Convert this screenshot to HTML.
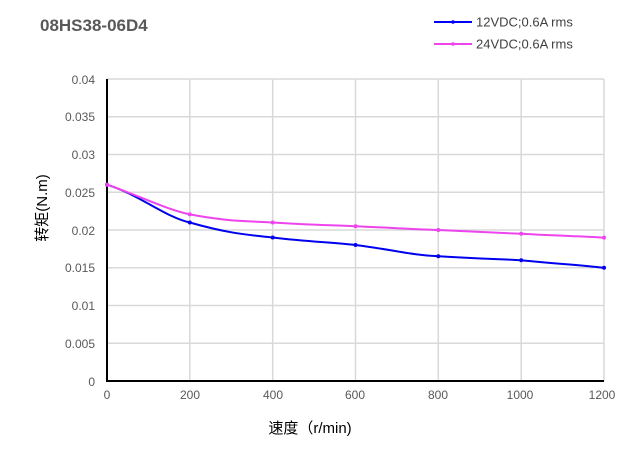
<!DOCTYPE html>
<html><head><meta charset="utf-8"><style>
body{margin:0;background:#fff}
svg{display:block;font-family:"Liberation Sans","Noto Sans CJK SC",sans-serif}
</style></head><body>
<svg width="640" height="450" viewBox="0 0 640 450">
<rect width="640" height="450" fill="#fff"/>
<text x="40" y="31" font-size="17" font-weight="bold" fill="#595959">08HS38-06D4</text>
<line x1="434" y1="22" x2="472" y2="22" stroke="#0000ff" stroke-width="2"/>
<circle cx="453" cy="22" r="1.8" fill="#0000ff"/>
<text x="476" y="26.5" font-size="13" fill="#404040">12VDC;0.6A rms</text>
<line x1="434" y1="44" x2="472" y2="44" stroke="#ee44ee" stroke-width="2"/>
<circle cx="453" cy="44" r="1.8" fill="#ee44ee"/>
<text x="476" y="48.5" font-size="13" fill="#404040">24VDC;0.6A rms</text>
<g stroke="#d9d9d9" stroke-width="1.5">
<line x1="107" y1="79" x2="604" y2="79"/><line x1="107" y1="116.75" x2="604" y2="116.75"/>
<line x1="107" y1="154.5" x2="604" y2="154.5"/><line x1="107" y1="192.25" x2="604" y2="192.25"/>
<line x1="107" y1="230" x2="604" y2="230"/><line x1="107" y1="267.75" x2="604" y2="267.75"/>
<line x1="107" y1="305.5" x2="604" y2="305.5"/><line x1="107" y1="343.25" x2="604" y2="343.25"/>
<line x1="189.8" y1="79" x2="189.8" y2="381"/><line x1="272.7" y1="79" x2="272.7" y2="381"/>
<line x1="355.5" y1="79" x2="355.5" y2="381"/><line x1="438.3" y1="79" x2="438.3" y2="381"/>
<line x1="521.2" y1="79" x2="521.2" y2="381"/><line x1="604" y1="79" x2="604" y2="381"/>
</g>
<line x1="107" y1="79" x2="107" y2="382" stroke="#000" stroke-width="2"/>
<line x1="106" y1="381" x2="604" y2="381" stroke="#000" stroke-width="2"/>
<g font-size="12" fill="#595959" text-anchor="end">
<text x="95" y="84">0.04</text><text x="95" y="121">0.035</text><text x="95" y="159">0.03</text>
<text x="95" y="197">0.025</text><text x="95" y="235">0.02</text><text x="95" y="272">0.015</text>
<text x="95" y="310">0.01</text><text x="95" y="348">0.005</text><text x="95" y="386">0</text>
</g>
<g font-size="12" fill="#595959" text-anchor="middle">
<text x="107" y="399">0</text><text x="190" y="399">200</text><text x="273" y="399">400</text>
<text x="355" y="399">600</text><text x="438" y="399">800</text><text x="520" y="399">1000</text><text x="602" y="399">1200</text>
</g>
<text x="310" y="433" font-size="15" fill="#000" text-anchor="middle">速度（r/min)</text>
<text transform="translate(47,208) rotate(-90)" font-size="15" fill="#000" text-anchor="middle">转矩(N.m)</text>
<path d="M107,184.7 C140,195 165,217 189.8,222.5 C230,234 250,235 272.7,237.5 C310,242 330,242 355.5,245 C395,250 410,255 438.3,256.3 C480,259 500,259 521.2,260.2 C560,264 580,265 604,267.8" fill="none" stroke="#0000ee" stroke-width="2"/>
<path d="M107,184.7 C140,196 165,209 189.8,214.4 C230,222 250,221 272.7,222.5 C310,225 330,225 355.5,226.2 C395,228 410,229 438.3,230 C480,232 500,233 521.2,233.8 C560,236 580,236 604,237.6" fill="none" stroke="#ee44ee" stroke-width="2"/>
<g fill="#0000ee"><circle cx="107" cy="184.7" r="2"/><circle cx="189.8" cy="222.5" r="2"/><circle cx="272.7" cy="237.5" r="2"/><circle cx="355.5" cy="245" r="2"/><circle cx="438.3" cy="256.3" r="2"/><circle cx="521.2" cy="260.2" r="2"/><circle cx="604" cy="267.8" r="2"/></g>
<g fill="#ee44ee"><circle cx="107" cy="184.7" r="2"/><circle cx="189.8" cy="214.4" r="2"/><circle cx="272.7" cy="222.5" r="2"/><circle cx="355.5" cy="226.2" r="2"/><circle cx="438.3" cy="230" r="2"/><circle cx="521.2" cy="233.8" r="2"/><circle cx="604" cy="237.6" r="2"/></g>
</svg>
</body></html>
